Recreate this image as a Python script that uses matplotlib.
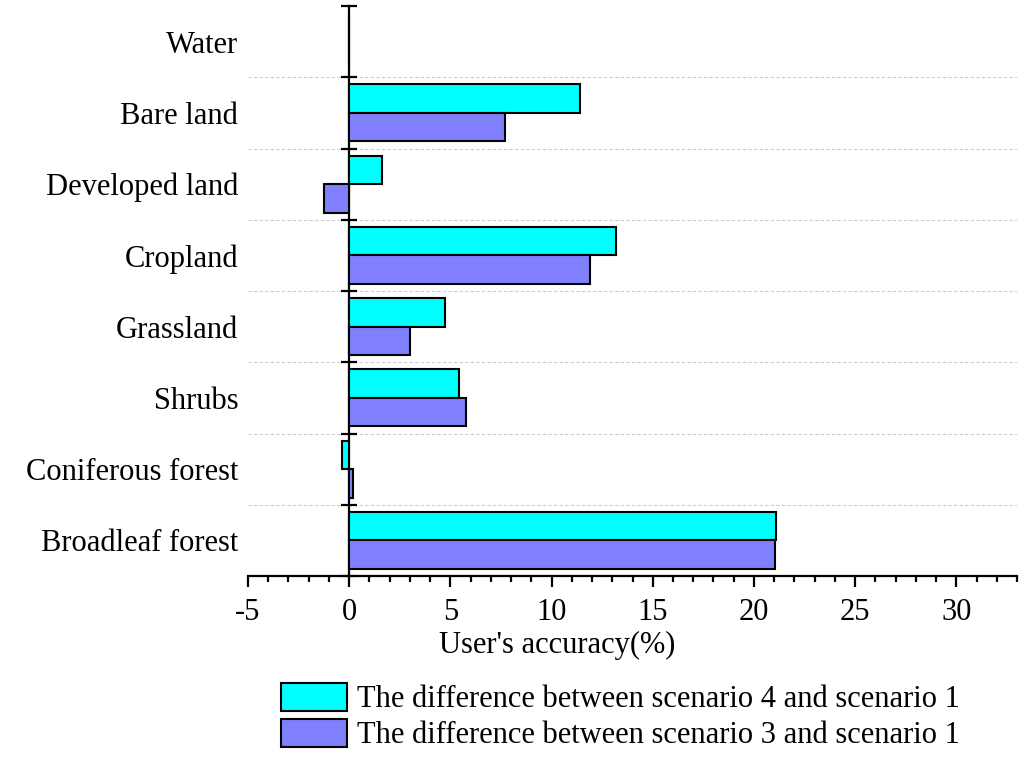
import numpy as np
import matplotlib
matplotlib.use("Agg")
import matplotlib.pyplot as plt
from matplotlib.ticker import MultipleLocator

plt.rcParams["font.family"] = ["Liberation Serif", "DejaVu Serif"]
plt.rcParams["axes.unicode_minus"] = False

# --- data (bottom to top) ---
categories = ["Broadleaf forest", "Coniferous forest", "Shrubs", "Grassland",
              "Cropland", "Developed land", "Bare land", "Water"]
diff_s4_s1 = [21.1, -0.35, 5.45, 4.75, 13.2, 1.6, 11.4, 0.0]
diff_s3_s1 = [21.05, 0.2, 5.75, 3.0, 11.9, -1.25, 7.7, 0.0]
label_s4 = "The difference between scenario 4 and scenario 1"
label_s3 = "The difference between scenario 3 and scenario 1"
xmin, xmax = -5, 33

fs = 22
fig = plt.figure(figsize=(10.24, 7.59), dpi=100)
ax = fig.add_axes([248 / 1024, 1 - 576 / 759, 769 / 1024, 570 / 759])

y = np.arange(len(categories))
h = 0.4
b1 = ax.barh(y + h / 2, diff_s4_s1, height=h, color="#00FFFF",
             edgecolor="black", linewidth=1.5, label=label_s4, zorder=3)
b2 = ax.barh(y - h / 2, diff_s3_s1, height=h, color="#8080FF",
             edgecolor="black", linewidth=1.5, label=label_s3, zorder=3)

ax.set_xlim(xmin, xmax)
ax.set_ylim(-0.5, len(categories) - 0.5)

# dashed separators between categories
for b in np.arange(0.5, len(categories) - 0.5, 1):
    ax.axhline(b, color="#cccccc", linestyle=(0, (3, 2)), linewidth=0.8, zorder=0)

for s in ["top", "right", "left"]:
    ax.spines[s].set_visible(False)
ax.spines["bottom"].set_linewidth(1.6)

ax.set_yticks(y)
ax.set_yticklabels(categories, fontsize=fs)
ax.tick_params(axis="y", length=0, pad=7)

ax.xaxis.set_major_locator(MultipleLocator(5))
ax.xaxis.set_minor_locator(MultipleLocator(1))
ax.tick_params(axis="x", which="major", length=8, width=1.6, labelsize=fs, pad=8)
ax.tick_params(axis="x", which="minor", length=4, width=1.6)
ax.set_xlabel("User's accuracy(%)", fontsize=fs)
ax.xaxis.set_label_coords(0.402, -0.121, transform=ax.transAxes)
ax.xaxis.label.set_va("center")

# vertical axis at x = 0 with ticks on the category boundaries
loc0 = (0 - xmin) / (xmax - xmin)
sec = ax.secondary_yaxis(loc0)
sec.spines["left"].set_linewidth(1.6)
sec.set_yticks(np.arange(-0.5, len(categories), 1))
sec.set_yticklabels([])
sec.tick_params(axis="y", direction="inout", length=12, width=1.6)

fig.legend(handles=[b1, b2], loc="upper left",
           bbox_to_anchor=(269 / 1024, 1 - 671 / 759), frameon=False,
           fontsize=fs, handlelength=2.15, handleheight=1.0,
           handletextpad=0.33, labelspacing=0.16, borderaxespad=0)

fig.savefig("out.png", dpi=100)
